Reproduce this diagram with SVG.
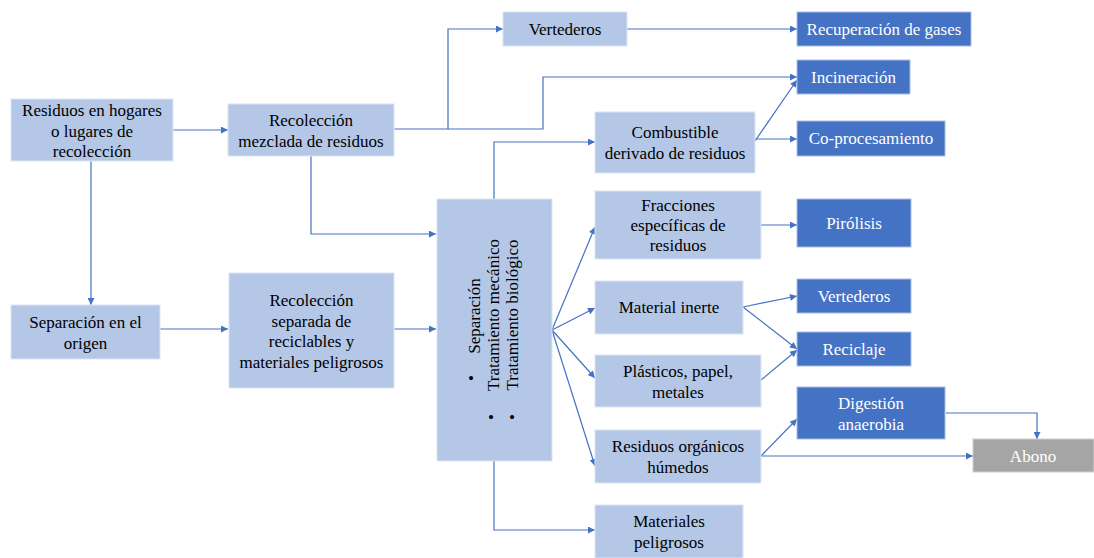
<svg xmlns="http://www.w3.org/2000/svg" width="1094" height="558" viewBox="0 0 1094 558" font-family="'Liberation Serif', 'DejaVu Serif', serif">
<defs>
<marker id="ah" viewBox="0 0 10 10" refX="10" refY="5" markerWidth="8" markerHeight="7" markerUnits="userSpaceOnUse" orient="auto">
<path d="M0,0 L10,5 L0,10 z" fill="#4472C4"/>
</marker>
<style>
.lt{fill:#B4C7E7;stroke:#DCE6F4;stroke-width:1}
.dk{fill:#4472C4;stroke:#A9BEE3;stroke-width:1}
.gr{fill:#A5A5A5;stroke:#D0D0D0;stroke-width:1}
text{font-size:17px;text-anchor:middle;fill:#000}
.w{fill:#fff}
.c{fill:none;stroke:#4472C4;stroke-width:1.2;marker-end:url(#ah)}
</style>
</defs>
<rect width="1094" height="558" fill="#fff"/>
<g id="connectors">
<path class="c" d="M173,130 H228"/>
<path class="c" d="M91,161 V305"/>
<path class="c" d="M160,329 H228"/>
<path class="c" d="M394,329 H436"/>
<path class="c" d="M311,156 V234 H436"/>
<path class="c" d="M394,129 H448 V29 H503"/>
<path class="c" d="M448,129 H543 V77 H797"/>
<path class="c" d="M627,29 H797"/>
<path class="c" d="M755,141 L797,80"/>
<path class="c" d="M755,139 H797"/>
<path class="c" d="M494,199 V142 H595"/>
<path class="c" d="M494,461 V530 H595"/>
<path class="c" d="M552,330 L595,227"/>
<path class="c" d="M552,330 L595,308"/>
<path class="c" d="M552,330 L595,378"/>
<path class="c" d="M552,330 L595,466"/>
<path class="c" d="M761,225 H797"/>
<path class="c" d="M743,307 L797,296"/>
<path class="c" d="M743,307 L797,349"/>
<path class="c" d="M761,380 L797,350"/>
<path class="c" d="M761,456 L797,419"/>
<path class="c" d="M761,456 H973"/>
<path class="c" d="M946,413 H1037 V439"/>
</g>
<g id="n1"><rect class="lt" x="11" y="99" width="162" height="62"/><text x="92" y="116">Residuos en hogares</text><text x="92" y="136.5">o lugares de</text><text x="92" y="157">recolección</text></g>
<g id="n2"><rect class="lt" x="228" y="104" width="166" height="52"/><text x="311" y="126">Recolección</text><text x="311" y="146.5">mezclada de residuos</text></g>
<g id="n3"><rect class="lt" x="11" y="305" width="149" height="54"/><text x="85.5" y="328">Separación en el</text><text x="85.5" y="348.5">origen</text></g>
<g id="n4"><rect class="lt" x="229" y="273" width="165" height="115"/><text x="311.5" y="306">Recolección</text><text x="311.5" y="326.5">separada de</text><text x="311.5" y="347">reciclables y</text><text x="311.5" y="367.5">materiales peligrosos</text></g>
<g id="n5"><rect class="lt" x="437" y="199" width="115" height="262"/>
<text transform="translate(480,316) rotate(-90)">Separación</text>
<text transform="translate(499,315) rotate(-90)">Tratamiento mecánico</text>
<text transform="translate(518,315) rotate(-90)">Tratamiento biológico</text>
<text transform="translate(477,378) rotate(-90)">•</text>
<text transform="translate(497,417) rotate(-90)">•</text>
<text transform="translate(518,417) rotate(-90)">•</text>
</g>
<g id="n6"><rect class="lt" x="503" y="12" width="124" height="34"/><text x="565" y="35">Vertederos</text></g>
<g id="n7"><rect class="dk" x="797" y="12" width="174" height="34"/><text class="w" x="884" y="35">Recuperación de gases</text></g>
<g id="n8"><rect class="dk" x="797" y="60" width="113" height="34"/><text class="w" x="853.5" y="83">Incineración</text></g>
<g id="n9"><rect class="dk" x="797" y="121" width="148" height="35"/><text class="w" x="871" y="144">Co-procesamiento</text></g>
<g id="n10"><rect class="lt" x="595" y="112" width="160" height="61"/><text x="675" y="138">Combustible</text><text x="675" y="159">derivado de residuos</text></g>
<g id="n11"><rect class="lt" x="595" y="191" width="166" height="68"/><text x="678" y="211">Fracciones</text><text x="678" y="231">específicas de</text><text x="678" y="251">residuos</text></g>
<g id="n12"><rect class="dk" x="797" y="199" width="114" height="48"/><text class="w" x="854" y="229">Pirólisis</text></g>
<g id="n13"><rect class="lt" x="595" y="281" width="148" height="53"/><text x="669" y="313">Material inerte</text></g>
<g id="n14"><rect class="dk" x="797" y="279" width="114" height="34"/><text class="w" x="854" y="302">Vertederos</text></g>
<g id="n15"><rect class="dk" x="797" y="332" width="114" height="34"/><text class="w" x="854" y="355">Reciclaje</text></g>
<g id="n16"><rect class="lt" x="595" y="355" width="166" height="52"/><text x="678" y="377">Plásticos, papel,</text><text x="678" y="397.5">metales</text></g>
<g id="n17"><rect class="dk" x="797" y="387" width="148" height="52"/><text class="w" x="871" y="409">Digestión</text><text class="w" x="871" y="429.5">anaerobia</text></g>
<g id="n18"><rect class="lt" x="595" y="430" width="166" height="53"/><text x="678" y="452">Residuos orgánicos</text><text x="678" y="472.5">húmedos</text></g>
<g id="n19"><rect class="gr" x="973" y="439" width="121" height="33"/><text class="w" x="1033" y="462">Abono</text></g>
<g id="n20"><rect class="lt" x="595" y="505" width="148" height="53"/><text x="669" y="527">Materiales</text><text x="669" y="547.5">peligrosos</text></g>
</svg>
